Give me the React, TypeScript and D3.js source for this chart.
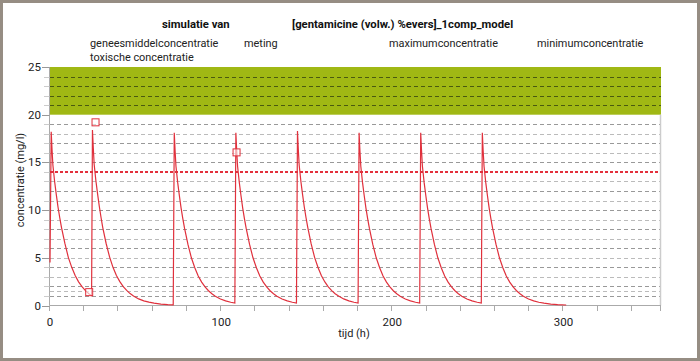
import React from "react";
import * as d3 from "d3";

// ---- data ----
const curveT = [
  0, 0.7, 1.2, 1.7, 2.7, 3.7, 4.7, 5.7, 6.7, 8.7, 10.7, 12.7, 14.7, 16.7, 18.7, 20.7, 22.7, 24.3,
  24.8, 25.3, 25.8, 26.8, 27.8, 28.8, 29.8, 30.8, 32.8, 34.8, 36.8, 38.8, 40.8, 42.8, 44.8, 46.8, 48.8, 51.8, 54.8, 57.8, 60.8, 64.8, 68.8, 72,
  72.6, 73.1, 73.6, 74.6, 75.6, 76.6, 77.6, 78.6, 80.6, 82.6, 84.6, 86.6, 88.6, 90.6, 92.6, 94.6, 96.6, 99.6, 102.6, 105.6, 108,
  108.6, 109.1, 109.6, 110.6, 111.6, 112.6, 113.6, 114.6, 116.6, 118.6, 120.6, 122.6, 124.6, 126.6, 128.6, 130.6, 132.6, 135.6, 138.6, 141.6, 144,
  144.6, 145.1, 145.6, 146.6, 147.6, 148.6, 149.6, 150.6, 152.6, 154.6, 156.6, 158.6, 160.6, 162.6, 164.6, 166.6, 168.6, 171.6, 174.6, 177.6, 180,
  180.6, 181.1, 181.6, 182.6, 183.6, 184.6, 185.6, 186.6, 188.6, 190.6, 192.6, 194.6, 196.6, 198.6, 200.6, 202.6, 204.6, 207.6, 210.6, 213.6, 216,
  216.6, 217.1, 217.6, 218.6, 219.6, 220.6, 221.6, 222.6, 224.6, 226.6, 228.6, 230.6, 232.6, 234.6, 236.6, 238.6, 240.6, 243.6, 246.6, 249.6, 252,
  252.6, 253.1, 253.6, 254.6, 255.6, 256.6, 257.6, 258.6, 260.6, 262.6, 264.6, 266.6, 268.6, 270.6, 272.6, 274.6, 276.6, 279.6, 282.6, 285.6, 288.6, 292.6, 296.6, 301.6,
];
const curveC = [
  4.5, 18.2, 16.3, 14.7, 13.0, 11.6, 10.3, 9.2, 8.2, 6.5, 5.05, 4.0, 3.15, 2.48, 1.97, 1.56, 1.24, 1.03,
  18.4, 16.5, 14.8, 13.1, 11.7, 10.4, 9.25, 8.2, 6.5, 5.1, 4.0, 3.15, 2.5, 1.98, 1.58, 1.25, 1.0, 0.69, 0.49, 0.35, 0.25, 0.15, 0.09, 0.06,
  18.1, 16.2, 14.6, 12.9, 11.5, 10.2, 9.1, 8.1, 6.4, 5.0, 3.95, 3.1, 2.45, 1.95, 1.55, 1.23, 0.98, 0.68, 0.48, 0.34, 0.26,
  18.1, 16.2, 14.6, 12.9, 11.5, 10.2, 9.1, 8.1, 6.4, 5.0, 3.95, 3.1, 2.45, 1.95, 1.55, 1.23, 0.98, 0.68, 0.48, 0.34, 0.26,
  18.3, 16.3, 14.7, 13.0, 11.6, 10.3, 9.2, 8.2, 6.45, 5.05, 3.98, 3.12, 2.47, 1.96, 1.56, 1.24, 0.99, 0.69, 0.48, 0.34, 0.26,
  18.1, 16.2, 14.6, 12.9, 11.5, 10.2, 9.1, 8.1, 6.4, 5.0, 3.95, 3.1, 2.45, 1.95, 1.55, 1.23, 0.98, 0.68, 0.48, 0.34, 0.26,
  18.1, 16.2, 14.6, 12.9, 11.5, 10.2, 9.1, 8.1, 6.4, 5.0, 3.95, 3.1, 2.45, 1.95, 1.55, 1.23, 0.98, 0.68, 0.48, 0.34, 0.26,
  18.1, 16.2, 14.6, 12.9, 11.5, 10.2, 9.1, 8.1, 6.4, 5.0, 3.95, 3.1, 2.45, 1.95, 1.55, 1.23, 0.98, 0.68, 0.48, 0.34, 0.24, 0.15, 0.09, 0.05,
];
const measT = [22.9, 26.6, 109];
const measC = [1.4, 19.2, 16.05];
const toxicRange = [20, 25];
const maxConc = 14;
const gridValues = [1, 1.5, 2, 3, 4, 5, 6, 7, 8, 9, 10, 11, 12, 13, 15, 16, 17, 18, 19, 21, 22, 23, 24];
const xTicks = [0, 20, 40, 60, 80, 100, 120, 140, 160, 180, 200, 220, 240, 260, 280, 300, 320, 340, 357];
const xLabels = [0, 100, 200, 300];
const yLabels = [0, 5, 10, 15, 20, 25];
const yMinor = d3.range(0, 26);
const titleLeft = "simulatie van";
const titleRight = "[gentamicine (volw.) %evers]_1comp_model";
const legendItems = [
  { label: "geneesmiddelconcentratie", x: 90, y: 47 },
  { label: "meting", x: 244, y: 47 },
  { label: "maximumconcentratie", x: 389, y: 47 },
  { label: "minimumconcentratie", x: 537, y: 47 },
  { label: "toxische concentratie", x: 90, y: 61 },
];

const FONT = "Roboto, 'DejaVu Sans', sans-serif";

export default function App() {
  const x = d3.scaleLinear().domain([0, 357]).range([50, 661]);
  const y = d3.scaleLinear().domain([0, 25]).range([305.5, 67]);
  const pts: [number, number][] = curveT.map((t, i) => [t, curveC[i]]);
  const line = d3
    .line<[number, number]>()
    .x((d) => x(d[0]))
    .y((d) => y(d[1]));

  return (
    <div style={{ position: "absolute", left: 0, top: 0 }}>
      <svg width={700} height={361} style={{ display: "block" }} fontFamily={FONT}>
        <rect x={1.5} y={1.5} width={697} height={358} fill="#fff" stroke="#968d83" strokeWidth={3} />
        {/* toxic band */}
        <rect
          x={x(0)}
          y={y(toxicRange[1])}
          width={x(357) - x(0)}
          height={y(toxicRange[0]) - y(toxicRange[1])}
          fill="#a0b814"
        />
        {/* gridlines */}
        {gridValues.map((v, i) => (
          <line
            key={"g" + v}
            x1={x(0)}
            x2={x(357)}
            y1={Math.round(y(v)) + 0.5}
            y2={Math.round(y(v)) + 0.5}
            stroke={v > 20 ? "#4a5a10" : i % 2 === 0 ? "#999" : "#bbb"}
            strokeWidth={1}
            strokeDasharray="4,3"
          />
        ))}
        {/* max concentration */}
        <line
          x1={x(0)}
          x2={x(357)}
          y1={y(maxConc)}
          y2={y(maxConc)}
          stroke="#e3303c"
          strokeWidth={2}
          strokeDasharray="3,2"
        />
        {/* axes */}
        <line x1={49.5} x2={49.5} y1={y(25)} y2={y(0)} stroke="#aaa" strokeWidth={1} />
        <line x1={660.5} x2={660.5} y1={y(20)} y2={y(0)} stroke="#ccc" strokeWidth={1.5} />
        <line x1={49.5} x2={661} y1={305.5} y2={305.5} stroke="#aaa" strokeWidth={1} />
        {xTicks.map((t) => (
          <line key={"xt" + t} x1={Math.round(x(t)) - 0.5} x2={Math.round(x(t)) - 0.5} y1={305.5} y2={311} stroke="#aaa" />
        ))}
        {yMinor.map((v) => (
          <line
            key={"ym" + v}
            x1={v % 5 === 0 ? 42 : 44}
            x2={49.5}
            y1={Math.round(y(v)) + 0.5}
            y2={Math.round(y(v)) + 0.5}
            stroke={v % 5 === 0 ? "#999" : "#ccc"}
          />
        ))}
        {xLabels.map((t) => (
          <text key={"xl" + t} x={x(t)} y={326} textAnchor="middle" fontSize={11.5} fill="#222">
            {t}
          </text>
        ))}
        {yLabels.map((v) => (
          <text key={"yl" + v} x={41} y={y(v) + 4} textAnchor="end" fontSize={11.5} fill="#222">
            {v}
          </text>
        ))}
        {/* curve */}
        <path d={line(pts) || ""} fill="none" stroke="#e0303c" strokeWidth={1.2} />
        {/* measurements */}
        {measT.map((t, i) => (
          <rect
            key={"m" + i}
            x={x(t) - 3.5}
            y={y(measC[i]) - 3.5}
            width={7}
            height={7}
            fill="rgba(255,255,255,0.6)"
            stroke="#e0303c"
            strokeWidth={1}
          />
        ))}
        {/* axis titles */}
        <text
          transform={`translate(24,${180}) rotate(-90)`}
          textAnchor="middle"
          fontSize={11}
          fill="#222"
        >
          concentratie (mg/l)
        </text>
        <text x={354} y={337} textAnchor="middle" fontSize={11} fill="#222">
          tijd (h)
        </text>
        {/* titles / legend */}
        <text x={162} y={28} fontSize={11.3} fontWeight="bold" fill="#111">
          {titleLeft}
        </text>
        <text x={292} y={28} fontSize={11.3} fontWeight="bold" fill="#111">
          {titleRight}
        </text>
        {legendItems.map((l) => (
          <text key={l.label} x={l.x} y={l.y} fontSize={10.9} fill="#222">
            {l.label}
          </text>
        ))}
      </svg>
    </div>
  );
}
